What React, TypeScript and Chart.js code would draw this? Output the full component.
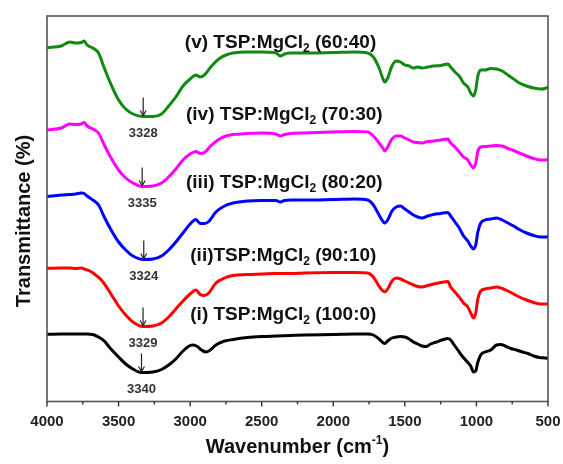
import React, { useEffect, useRef } from 'react';
import { Chart, registerables } from 'chart.js';

Chart.register(...registerables);

const FONT = '"Liberation Sans", Arial, Helvetica, sans-serif';

const xTicks = [4000, 3500, 3000, 2500, 2000, 1500, 1000, 500];
const xMinorTicks = [3750, 3250, 2750, 2250, 1750, 1250, 750];

const seriesColors = ['#128a12', '#ff00ff', '#0000ff', '#ff0000', '#000000'];

// (v) 60:40
const greenWn = [4000, 3900, 3840, 3800, 3760, 3740, 3720, 3680, 3640, 3600, 3560, 3500, 3450, 3400, 3330, 3260, 3200, 3150, 3100, 3050, 3000, 2960, 2930, 2900, 2850, 2800, 2750, 2700, 2600, 2500, 2400, 2370, 2340, 2300, 2200, 2000, 1850, 1760, 1720, 1680, 1650, 1640, 1620, 1590, 1560, 1530, 1500, 1470, 1440, 1410, 1380, 1340, 1300, 1250, 1200, 1180, 1150, 1120, 1090, 1060, 1040, 1020, 1005, 990, 970, 940, 900, 860, 820, 780, 740, 700, 650, 600, 550, 520, 500];
const greenT = [352.3, 354, 358, 357, 357.5, 359, 355, 352, 347, 332, 318, 300, 291, 286, 283.5, 283.5, 286, 294, 303, 314, 321, 325, 323, 325, 334, 341, 345, 347, 348, 348, 347, 344, 346, 347, 347, 347.5, 348, 347, 343, 332, 320, 318, 322, 334, 339, 338, 335, 334, 332, 333, 332, 333, 334, 334.5, 336, 333, 328, 324, 317, 313, 307, 304, 310, 324, 330, 330, 331.5, 331, 329, 325, 321, 317, 314, 312, 311, 311.5, 313];

// (iv) 70:30
const magentaWn = [4000, 3900, 3840, 3800, 3760, 3740, 3720, 3680, 3640, 3600, 3560, 3500, 3450, 3400, 3335, 3260, 3200, 3150, 3100, 3050, 3000, 2960, 2930, 2900, 2850, 2800, 2750, 2700, 2600, 2500, 2400, 2370, 2340, 2300, 2200, 2000, 1850, 1760, 1720, 1680, 1650, 1640, 1620, 1590, 1560, 1530, 1500, 1470, 1440, 1410, 1380, 1340, 1300, 1250, 1200, 1180, 1150, 1120, 1090, 1060, 1040, 1020, 1005, 990, 970, 940, 900, 860, 820, 780, 740, 700, 650, 600, 550, 520, 500];
const magentaT = [270, 272, 276, 275.5, 276, 277.5, 274, 271, 267, 255, 244, 230, 222, 217, 213.5, 214, 217, 223, 231, 240, 246, 248.5, 246.5, 247.5, 255, 260.5, 264, 265.5, 266.5, 267, 266, 264, 265.5, 266.5, 267, 268, 268.5, 268, 264, 257, 251, 249, 253, 261, 264, 264, 262, 260, 258, 257.5, 257, 258.5, 259, 260, 261, 257, 253, 248, 243, 240, 235, 232, 237, 249, 253, 253.5, 254, 254.5, 254, 251.5, 249.5, 247, 244, 241.5, 240, 240, 240.5];

// (iii) 80:20
const blueWn = [4000, 3900, 3840, 3800, 3760, 3740, 3720, 3680, 3640, 3600, 3560, 3500, 3450, 3400, 3324, 3260, 3200, 3150, 3100, 3050, 3000, 2960, 2930, 2900, 2870, 2820, 2760, 2700, 2600, 2500, 2400, 2370, 2340, 2300, 2200, 2000, 1850, 1760, 1720, 1680, 1650, 1640, 1620, 1590, 1560, 1530, 1500, 1470, 1440, 1410, 1380, 1340, 1300, 1250, 1200, 1180, 1150, 1120, 1090, 1060, 1040, 1020, 1005, 990, 970, 940, 900, 860, 820, 780, 740, 700, 650, 600, 550, 520, 500];
const blueT = [203.3, 205, 205.5, 206, 207, 206.5, 204, 200, 195, 183, 172, 158, 150, 144, 140.5, 141, 144, 150, 158, 167, 176, 180.5, 176.5, 176.5, 178.5, 188, 194, 197, 199, 199.5, 199.5, 198, 199.5, 200, 200, 200.5, 201, 200, 195, 185, 178, 177, 180, 189, 193, 194, 191, 188, 185, 183, 182, 184, 185.5, 186.5, 187.5, 184, 178, 172, 164, 159, 154, 151, 155, 168, 177, 180, 181, 182, 180, 177, 174, 170.5, 167, 164.5, 163, 163, 163.5];

// (ii) 90:10
const redWn = [4000, 3900, 3840, 3800, 3760, 3740, 3700, 3660, 3620, 3580, 3540, 3500, 3450, 3400, 3329, 3260, 3200, 3150, 3100, 3050, 3000, 2960, 2930, 2900, 2870, 2820, 2760, 2700, 2600, 2500, 2400, 2300, 2200, 2000, 1850, 1760, 1720, 1690, 1660, 1640, 1620, 1590, 1560, 1530, 1500, 1470, 1440, 1410, 1380, 1340, 1300, 1250, 1200, 1180, 1150, 1120, 1090, 1060, 1040, 1020, 1005, 990, 970, 940, 900, 860, 820, 780, 740, 700, 650, 600, 550, 500];
const redT = [131.7, 132, 132, 131.5, 132, 131, 129, 125, 120, 112, 103, 94, 85, 78, 73.5, 74, 77, 83, 91, 99, 106, 110, 105.5, 104.5, 107, 117, 122, 124.5, 125.5, 126, 126.5, 126.5, 127, 127.5, 127.5, 127, 123, 116, 110, 108, 111, 119, 122, 121, 119, 117, 115, 113.5, 113, 114.5, 116, 117.5, 118.5, 113, 108, 103, 97, 93, 87, 82, 87, 101, 109, 111, 112, 113, 111.5, 109, 106, 103, 100, 97.5, 96, 96];

// (i) 100:0
const blackWn = [4000, 3900, 3800, 3720, 3680, 3640, 3600, 3560, 3500, 3450, 3400, 3340, 3260, 3200, 3150, 3100, 3050, 3000, 2980, 2950, 2920, 2890, 2860, 2820, 2770, 2700, 2600, 2500, 2400, 2300, 2200, 2000, 1850, 1760, 1720, 1680, 1650, 1640, 1620, 1590, 1560, 1530, 1500, 1470, 1440, 1410, 1380, 1350, 1320, 1280, 1240, 1200, 1180, 1160, 1130, 1100, 1070, 1040, 1020, 1005, 990, 970, 940, 900, 860, 830, 800, 760, 720, 680, 640, 600, 560, 520, 500];
const blackT = [65.7, 66, 66, 66, 65.5, 63, 59, 52, 43, 36, 31, 27.5, 28, 30.5, 35, 41, 49, 54.5, 55, 53.5, 50, 48, 50, 55, 58.5, 60.5, 62.5, 63.5, 64, 64.5, 65, 65.5, 66, 66, 65, 61, 57, 56.5, 59, 62, 63, 63.5, 63, 61, 58, 56, 54, 53.5, 56, 58, 60, 61.5, 60, 56, 50, 44, 39, 34, 28, 29, 38, 45, 48, 50, 55, 55.5, 54, 51.5, 50, 48, 46.5, 44, 42.5, 42, 41.7];

const seriesWn = [greenWn, magentaWn, blueWn, redWn, blackWn];
const seriesT = [greenT, magentaT, blueT, redT, blackT];

const labelPrefix = ['(v) TSP:MgCl', '(iv) TSP:MgCl', '(iii) TSP:MgCl', '(ii)TSP:MgCl', '(i) TSP:MgCl'];
const labelSub = ['2', '2', '2', '2', '2'];
const labelSuffix = [' (60:40)', ' (70:30)', ' (80:20)', ' (90:10)', ' (100:0)'];
const labelWn = [3037, 3029, 3029, 2999, 2999];
const labelT = [357, 285, 217, 144, 85];

const peakWn = [3328, 3335, 3324, 3329, 3340];
const peakT = [283.5, 213.5, 140.5, 73.5, 27.5];
const peakLabels = ['3328', '3335', '3324', '3329', '3340'];

type Part = { t: string; sub?: boolean; sup?: boolean };

function drawRich(ctx: CanvasRenderingContext2D, parts: Part[], x: number, y: number, size: number, align: 'left' | 'center') {
  const small = Math.round(size * 0.62);
  const widths = parts.map((p) => {
    ctx.font = `bold ${p.sub || p.sup ? small : size}px ${FONT}`;
    return ctx.measureText(p.t).width;
  });
  const total = widths.reduce((a, b) => a + b, 0);
  let cx = align === 'center' ? x - total / 2 : x;
  ctx.textAlign = 'left';
  ctx.textBaseline = 'middle';
  parts.forEach((p, i) => {
    ctx.font = `bold ${p.sub || p.sup ? small : size}px ${FONT}`;
    let dy = 0;
    if (p.sub) dy = size * 0.3;
    if (p.sup) dy = -size * 0.32;
    ctx.fillText(p.t, cx, y + dy);
    cx += widths[i];
  });
}

const overlayPlugin = {
  id: 'overlay',
  afterDatasetsDraw(chart: any) {
    const { ctx, chartArea: a, scales } = chart;
    const x = scales.x;
    const y = scales.y;
    ctx.save();
    // frame
    ctx.strokeStyle = '#555';
    ctx.lineWidth = 1.6;
    ctx.strokeRect(a.left, a.top, a.right - a.left, a.bottom - a.top);
    // outward ticks on bottom axis
    ctx.lineWidth = 1.4;
    ctx.strokeStyle = '#333';
    xTicks.forEach((t) => {
      const px = x.getPixelForValue(t);
      ctx.beginPath();
      ctx.moveTo(px, a.bottom);
      ctx.lineTo(px, a.bottom + 5);
      ctx.stroke();
    });
    xMinorTicks.forEach((t) => {
      const px = x.getPixelForValue(t);
      ctx.beginPath();
      ctx.moveTo(px, a.bottom);
      ctx.lineTo(px, a.bottom + 3);
      ctx.stroke();
    });
    // tick labels
    ctx.fillStyle = '#222';
    ctx.font = `bold 15px ${FONT}`;
    ctx.textAlign = 'center';
    ctx.textBaseline = 'middle';
    xTicks.forEach((t) => {
      ctx.fillText(String(t), x.getPixelForValue(t), a.bottom + 20.5);
    });
    // peak arrows and labels
    peakWn.forEach((w, i) => {
      const px = x.getPixelForValue(w);
      const py = y.getPixelForValue(peakT[i]);
      ctx.strokeStyle = '#222';
      ctx.lineWidth = 1.2;
      ctx.beginPath();
      ctx.moveTo(px, py - 19);
      ctx.lineTo(px, py - 1);
      ctx.stroke();
      ctx.beginPath();
      ctx.moveTo(px - 3, py - 6);
      ctx.lineTo(px, py - 1);
      ctx.lineTo(px + 3, py - 6);
      ctx.stroke();
      ctx.fillStyle = '#333';
      ctx.font = `bold 13px ${FONT}`;
      ctx.textAlign = 'center';
      ctx.textBaseline = 'middle';
      ctx.fillText(peakLabels[i], px, py + 16.5);
    });
    // series labels
    ctx.fillStyle = '#111';
    labelPrefix.forEach((pre, i) => {
      const px = x.getPixelForValue(labelWn[i]);
      const py = y.getPixelForValue(labelT[i]);
      drawRich(ctx, [{ t: pre }, { t: labelSub[i], sub: true }, { t: labelSuffix[i] }], px, py, 19, 'left');
    });
    ctx.restore();
  },
  afterDraw(chart: any) {
    const { ctx, chartArea: a } = chart;
    ctx.save();
    ctx.fillStyle = '#111';
    drawRich(ctx, [{ t: 'Wavenumber (cm' }, { t: '-1', sup: true }, { t: ')' }], (a.left + a.right) / 2, 447, 20, 'center');
    ctx.translate(24, 221);
    ctx.rotate(-Math.PI / 2);
    drawRich(ctx, [{ t: 'Transmittance (%)' }], 0, 0, 20, 'center');
    ctx.restore();
  },
};

export default function App() {
  const ref = useRef<HTMLCanvasElement | null>(null);
  useEffect(() => {
    if (!ref.current) return;
    const datasets = seriesWn.map((wn, i) => ({
      label: labelPrefix[i] + labelSub[i] + labelSuffix[i],
      data: wn.map((w, j) => ({ x: w, y: seriesT[i][j] })),
      borderColor: seriesColors[i],
      borderWidth: 3,
      pointRadius: 0,
      fill: false,
      cubicInterpolationMode: 'monotone' as const,
    }));
    const chart = new Chart(ref.current, {
      type: 'line',
      data: { datasets },
      options: {
        animation: false,
        responsive: false,
        maintainAspectRatio: false,
        layout: { padding: { left: 47, right: 15, top: 16, bottom: 0 } },
        plugins: { legend: { display: false }, tooltip: { enabled: false } },
        scales: {
          x: {
            type: 'linear',
            reverse: true,
            min: 500,
            max: 4000,
            afterFit: (s: any) => {
              s.height = 62.5;
            },
            grid: { display: false, drawTicks: false },
            border: { display: false },
            ticks: { display: false, stepSize: 500 },
          },
          y: {
            type: 'linear',
            display: false,
            min: -1.5,
            max: 384,
          },
        },
      },
      plugins: [overlayPlugin],
    });
    return () => chart.destroy();
  }, []);
  return (
    <div style={{ position: 'fixed', left: 0, top: 0, width: 563, height: 464, background: '#fff' }}>
      <canvas ref={ref} width={563} height={464} style={{ width: 563, height: 464 }} />
    </div>
  );
}
